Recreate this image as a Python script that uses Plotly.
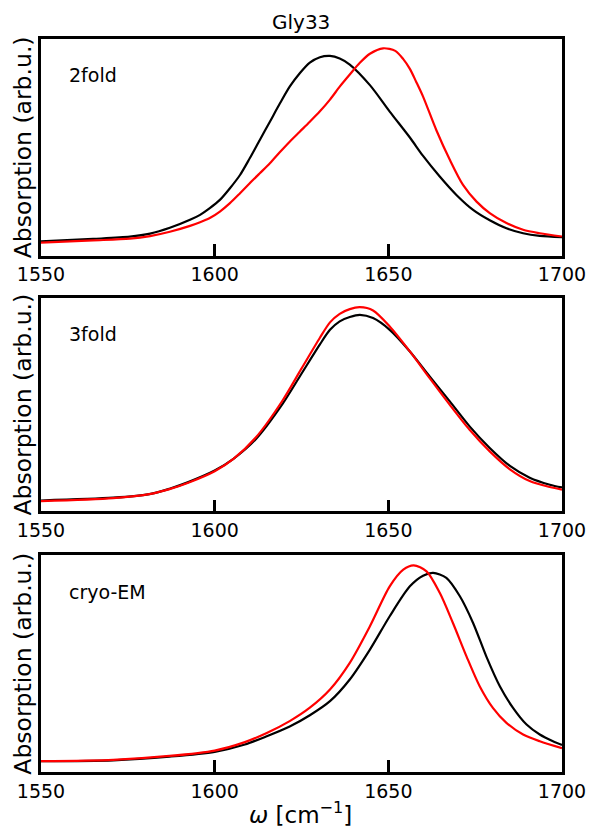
import plotly.graph_objects as go

# ---- spectra: wavenumber (cm^-1) and normalised absorption ----
# 2fold
x_2fold_black = [1550, 1565, 1575.6, 1581.4, 1587.1, 1592.9, 1595.8, 1598.6, 1601.5, 1604.4,
                 1607.3, 1610.1, 1613, 1615.9, 1618.8, 1621.6, 1624.5, 1627.4, 1630.3,
                 1633.2, 1636, 1638.9, 1644.7, 1650.4, 1656.2, 1660, 1664.8, 1669.6,
                 1674.4, 1679.2, 1684, 1688.8, 1693.6, 1700]
y_2fold_black = [0.066, 0.077, 0.087, 0.101, 0.128, 0.165, 0.188, 0.219, 0.257, 0.311,
                 0.372, 0.449, 0.534, 0.618, 0.703, 0.780, 0.842, 0.891, 0.916,
                 0.922, 0.910, 0.882, 0.787, 0.665, 0.545, 0.460, 0.365, 0.280,
                 0.211, 0.163, 0.126, 0.103, 0.091, 0.085]
x_2fold_red = [1550, 1565, 1575.6, 1581.4, 1587.1, 1592.9, 1595.8, 1598.6, 1601.5, 1604.4,
               1607.3, 1610.1, 1613, 1615.9, 1618.8, 1621.6, 1624.5, 1627.4, 1630.3,
               1633.2, 1636, 1638.9, 1641.8, 1644.7, 1648.5, 1652, 1654.3, 1656.2, 1658,
               1660, 1663.8, 1667.7, 1671.5, 1675.4, 1679.2, 1684, 1688.8, 1693.6, 1700]
y_2fold_red = [0.060, 0.070, 0.078, 0.090, 0.110, 0.137, 0.154, 0.173, 0.203, 0.242,
               0.288, 0.334, 0.380, 0.426, 0.478, 0.526, 0.572, 0.618, 0.666,
               0.720, 0.780, 0.836, 0.890, 0.932, 0.957, 0.945, 0.907, 0.862, 0.803,
               0.734, 0.580, 0.442, 0.326, 0.249, 0.196, 0.150, 0.119, 0.103, 0.088]

# 3fold
x_3fold = [1550, 1570.8, 1581.6, 1587, 1592.4, 1600, 1605.4, 1611.9, 1619.5, 1624.9,
           1630.3, 1633.2, 1636, 1638.9, 1641.8, 1645.6, 1650.4, 1656.2, 1661.9, 1667.7,
           1673.4, 1679.2, 1685, 1690.7, 1696.5, 1700]
y_3fold_black = [0.051, 0.064, 0.082, 0.106, 0.137, 0.191, 0.246, 0.339, 0.502, 0.642,
                 0.782, 0.850, 0.890, 0.910, 0.920, 0.905, 0.850, 0.749, 0.632, 0.515,
                 0.398, 0.297, 0.213, 0.158, 0.125, 0.112]
y_3fold_red = [0.048, 0.062, 0.082, 0.104, 0.134, 0.188, 0.246, 0.347, 0.518, 0.666,
               0.813, 0.885, 0.925, 0.947, 0.956, 0.941, 0.866, 0.749, 0.624, 0.499,
               0.382, 0.281, 0.197, 0.142, 0.114, 0.102]

# cryo-EM
x_cryo_black = [1550, 1570.8, 1587, 1600, 1608.7, 1615, 1621.6, 1627.4, 1633.2, 1638.9,
                1644.7, 1650.4, 1656.2, 1660, 1662.9, 1666.7, 1670.6, 1674.4, 1678.2,
                1682.1, 1685.9, 1689.8, 1693.6, 1697.4, 1700]
y_cryo_black = [0.050, 0.054, 0.071, 0.093, 0.127, 0.165, 0.210, 0.262, 0.327, 0.427,
                0.565, 0.719, 0.857, 0.906, 0.919, 0.896, 0.811, 0.688, 0.534,
                0.396, 0.296, 0.219, 0.173, 0.142, 0.125]
x_cryo_red = [1550, 1570.8, 1587, 1600, 1608.7, 1615, 1621.6, 1627.4, 1633.2, 1638.9,
              1644.7, 1650.4, 1654.3, 1657.3, 1661, 1664.8, 1668.6, 1672.5, 1676.3,
              1680.1, 1684, 1688.8, 1693.6, 1700]
y_cryo_red = [0.050, 0.056, 0.074, 0.099, 0.138, 0.180, 0.235, 0.297, 0.381, 0.504,
              0.673, 0.857, 0.934, 0.954, 0.926, 0.827, 0.688, 0.534, 0.396,
              0.296, 0.227, 0.173, 0.142, 0.110]

panel_names = ["2fold", "3fold", "cryo-EM"]
x_ticks = [1550, 1600, 1650, 1700]

series = [
    [(x_2fold_black, y_2fold_black, "black"), (x_2fold_red, y_2fold_red, "red")],
    [(x_3fold, y_3fold_black, "black"), (x_3fold, y_3fold_red, "red")],
    [(x_cryo_black, y_cryo_black, "black"), (x_cryo_red, y_cryo_red, "red")],
]

W, H = 591, 828
L, R, T, B = 41, 28.7, 39, 55.5
plot_h = H - T - B
plot_w = W - L - R


def py(pix):
    """pixel row -> paper y"""
    return (H - B - pix) / plot_h


def px(pix):
    return (pix - L) / plot_w


# panel top / bottom rows in pixels
panel_rows = [(39, 255.7), (298, 511.7), (555.7, 772.5)]

fig = go.Figure()

for i, (top, bot) in enumerate(panel_rows):
    n = i + 1
    xa = "x" if n == 1 else f"x{n}"
    ya = "y" if n == 1 else f"y{n}"
    for xs, ys, col in series[i]:
        fig.add_trace(go.Scatter(x=xs, y=ys, mode="lines", xaxis=xa, yaxis=ya,
                                 line=dict(color=col, width=2.2, shape="spline", smoothing=0.8),
                                 showlegend=False, hoverinfo="skip"))
    axis_common = dict(showline=True, linecolor="black", linewidth=2.6, mirror=True,
                       showgrid=False, zeroline=False, automargin=False)
    fig.update_layout(**{
        ("xaxis" if n == 1 else f"xaxis{n}"): dict(
            axis_common, range=[1550, 1700], tickvals=x_ticks,
            ticktext=[str(t) for t in x_ticks], ticks="inside", ticklen=12,
            tickwidth=2.6, tickcolor="black",
            tickfont=dict(family="DejaVu Sans", size=19, color="black"),
            anchor=ya, domain=[0, 1]),
        ("yaxis" if n == 1 else f"yaxis{n}"): dict(
            axis_common, range=[0, 1], showticklabels=False, ticks="",
            anchor=xa, domain=[py(bot), py(top)]),
    })
    # y axis label
    fig.add_annotation(text="Absorption (arb.u.)", textangle=-90,
                       x=px(23), y=py((top + bot) / 2), xref="paper", yref="paper",
                       showarrow=False, xanchor="center", yanchor="middle",
                       font=dict(family="DejaVu Sans", size=23.5, color="black"))
    # panel label
    fig.add_annotation(text=panel_names[i], x=px(67), y=py(top + 36.5),
                       xref="paper", yref="paper", showarrow=False,
                       xanchor="left", yanchor="middle",
                       font=dict(family="DejaVu Sans", size=19, color="black"))

fig.add_annotation(text="Gly33", x=px(301.5), y=py(22), xref="paper", yref="paper",
                   showarrow=False, xanchor="center", yanchor="middle",
                   font=dict(family="DejaVu Sans", size=20, color="black"))
fig.add_annotation(text="<i>ω</i> [cm<sup>−1</sup>]", x=px(301), y=py(814),
                   xref="paper", yref="paper", showarrow=False,
                   xanchor="center", yanchor="middle",
                   font=dict(family="DejaVu Sans", size=23, color="black"))

fig.update_layout(width=W, height=H, margin=dict(l=L, r=R, t=T, b=B),
                  paper_bgcolor="white", plot_bgcolor="white")

fig.write_html("out.html")
